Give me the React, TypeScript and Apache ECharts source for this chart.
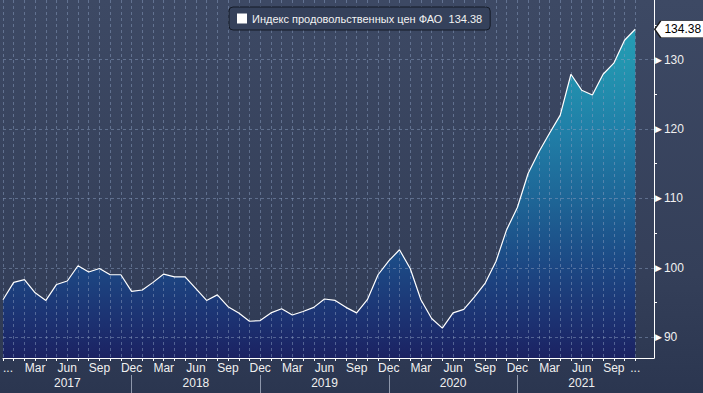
import React, { useEffect, useRef } from 'react';
import * as echarts from 'echarts';

// ---------- DATA ----------
const seriesName = 'Индекс продовольственных цен ФАО';
const lastValueLabel = '134.38';

const months = [
  '2016-12',
  '2017-01', '2017-02', '2017-03', '2017-04', '2017-05', '2017-06',
  '2017-07', '2017-08', '2017-09', '2017-10', '2017-11', '2017-12',
  '2018-01', '2018-02', '2018-03', '2018-04', '2018-05', '2018-06',
  '2018-07', '2018-08', '2018-09', '2018-10', '2018-11', '2018-12',
  '2019-01', '2019-02', '2019-03', '2019-04', '2019-05', '2019-06',
  '2019-07', '2019-08', '2019-09', '2019-10', '2019-11', '2019-12',
  '2020-01', '2020-02', '2020-03', '2020-04', '2020-05', '2020-06',
  '2020-07', '2020-08', '2020-09', '2020-10', '2020-11', '2020-12',
  '2021-01', '2021-02', '2021-03', '2021-04', '2021-05', '2021-06',
  '2021-07', '2021-08', '2021-09', '2021-10', '2021-11',
];

const values = [
  95.4,
  97.9, 98.3, 96.4, 95.3, 97.6, 98.1, 100.3, 99.4, 99.9, 99.0, 99.0, 96.6,
  96.8, 97.9, 99.1, 98.7, 98.7, 97.0, 95.3, 96.1, 94.4, 93.5, 92.3, 92.4,
  93.5, 94.1, 93.2, 93.7, 94.3, 95.5, 95.3, 94.3, 93.5, 95.4, 99.0, 101.0,
  102.6, 99.9, 95.4, 92.7, 91.3, 93.5, 94.0, 95.8, 97.8, 100.9, 105.5, 108.7,
  113.6, 116.7, 119.4, 122.0, 127.9, 125.6, 124.9, 127.9, 129.5, 132.8, 134.38,
];

const monthNames = ['Jan', 'Feb', 'Mar', 'Apr', 'May', 'Jun', 'Jul', 'Aug', 'Sep', 'Oct', 'Nov', 'Dec'];
const years = ['2017', '2018', '2019', '2020', '2021'];
const yTicks = [90, 100, 110, 120, 130];
const yMinorTicks = [95, 105, 115, 125, 135];

const FONT = "'Liberation Sans', Arial, sans-serif";

export default function App() {
  const ref = useRef<HTMLDivElement>(null);

  useEffect(() => {
    if (!ref.current) return;
    const chart = echarts.init(ref.current, null, { renderer: 'svg' });
    const n = months.length;
    const data = values.map((v, i) => [i, v]);
    const monthTickValues = months.map((_, i) => i);
    const monthLabelValues = months.map((_, i) => i).filter((i) => i % 3 === 0 || i === n - 1);
    const monthLabel = (val: number) => {
      const i = Math.round(val);
      if (i === 0 || i === n - 1) return '...';
      const m = parseInt(months[i].slice(5), 10);
      return monthNames[m - 1];
    };
    const yearLabelValues = years.map((y) => months.indexOf(y + '-06'));
    const yearSepValues = years.map((y) => months.indexOf(y + '-12')).filter((i) => i >= 0);

    const xMin = 0;
    const xMax = 60.75;
    const yMin = 87;
    const yMax = 138.6;

    const gridLine = {
      show: true,
      lineStyle: { color: 'rgba(135,155,190,0.5)', type: [3, 3] as any, width: 1 },
    };

    chart.setOption({
      animation: false,
      backgroundColor: 'transparent',
      textStyle: { fontFamily: FONT },
      grid: { left: 0, right: 49, top: 0, bottom: 35, containLabel: false },
      legend: {
        left: 229,
        top: 7,
        padding: [6, 8, 6, 8],
        backgroundColor: '#35415b',
        borderColor: '#151b27',
        borderWidth: 1,
        borderRadius: 4,
        itemWidth: 10,
        itemHeight: 10,
        itemGap: 5,
        selectedMode: false,
        data: [{ name: seriesName, icon: 'rect', itemStyle: { color: '#ffffff' } }],
        formatter: (name: string) => name + '  ' + lastValueLabel,
        textStyle: { color: '#f2f2f2', fontSize: 11, fontFamily: FONT },
      },
      xAxis: [
        {
          type: 'value',
          min: xMin,
          max: xMax,
          position: 'bottom',
          z: 3,
          axisLine: { show: true, onZero: false, lineStyle: { color: '#ffffff', width: 1 } },
          axisTick: { show: true, customValues: monthTickValues, length: 3, lineStyle: { color: '#ffffff' } },
          axisLabel: {
            customValues: monthLabelValues,
            formatter: monthLabel,
            color: '#f0f0f0',
            fontSize: 12,
            fontFamily: FONT,
            margin: 4,
            alignMinLabel: 'left',
          },
          splitLine: gridLine,
        },
        {
          type: 'value',
          min: xMin,
          max: xMax,
          position: 'bottom',
          offset: 17,
          z: 3,
          axisLine: { show: false, onZero: false },
          axisTick: { show: true, customValues: yearSepValues, length: 18, lineStyle: { color: '#8e97ab' } },
          axisLabel: {
            customValues: yearLabelValues,
            formatter: (val: number) => months[Math.round(val)].slice(0, 4),
            color: '#f0f0f0',
            fontSize: 12,
            fontFamily: FONT,
            margin: 2,
          },
          splitLine: { show: false },
        },
      ],
      yAxis: [
        {
          type: 'value',
          position: 'right',
          min: yMin,
          max: yMax,
          z: 3,
          axisLine: { show: true, onZero: false, lineStyle: { color: '#ffffff', width: 1 } },
          axisTick: { show: false, customValues: yTicks },
          axisLabel: {
            customValues: yTicks,
            margin: 1,
            formatter: (v: number) => '{t|▶}{v|' + v + '}',
            rich: {
              t: { fontSize: 9, color: '#ffffff', fontFamily: 'DejaVu Sans', padding: [0, 2, 0, 0] },
              v: { fontSize: 12, color: '#f0f0f0', fontFamily: FONT },
            },
          },
          splitLine: gridLine,
        },
        {
          type: 'value',
          position: 'right',
          min: yMin,
          max: yMax,
          z: 3,
          axisLine: { show: false, onZero: false },
          axisTick: { show: true, customValues: yMinorTicks, length: 3, lineStyle: { color: '#ffffff' } },
          axisLabel: { show: false },
          splitLine: { show: false },
        },
      ],
      series: [
        {
          type: 'line',
          name: seriesName,
          data,
          xAxisIndex: 0,
          yAxisIndex: 0,
          symbol: 'none',
          silent: true,
          z: 2,
          lineStyle: { width: 0 },
          areaStyle: {
            opacity: 1,
            color: {
              type: 'linear',
              x: 0,
              y: 0,
              x2: 0,
              y2: 358,
              global: true,
              colorStops: [
                { offset: 0, color: '#26a2b9' },
                { offset: 0.17, color: '#2396b0' },
                { offset: 0.36, color: '#2080a8' },
                { offset: 0.56, color: '#1e6596' },
                { offset: 0.75, color: '#1c4783' },
                { offset: 0.9, color: '#1c3171' },
                { offset: 1, color: '#1b2262' },
              ],
            },
          },
        },
        {
          type: 'line',
          name: seriesName,
          data,
          xAxisIndex: 0,
          yAxisIndex: 0,
          symbol: 'none',
          silent: true,
          z: 5,
          lineStyle: { color: '#ffffff', width: 1.2 },
          markPoint: {
            silent: true,
            symbol: 'path://M0,8.5 L6,0 L54,0 L54,17 L6,17 Z',
            symbolSize: [54, 17],
            symbolKeepAspect: false,
            symbolOffset: [46.5, 0],
            itemStyle: { color: '#ffffff', borderColor: '#1a1a1a', borderWidth: 1 },
            label: {
              show: true,
              position: 'inside',
              formatter: lastValueLabel,
              color: '#000000',
              fontSize: 12,
              fontFamily: FONT,
              offset: [1, 0],
            },
            data: [{ coord: [n - 1, values[n - 1]] }],
          },
        },
      ],
    });

    return () => {
      chart.dispose();
    };
  }, []);

  return (
    <div
      style={{
        position: 'fixed',
        left: 0,
        top: 0,
        width: 703,
        height: 393,
        background: 'linear-gradient(180deg, #3d4964 0%, #343f59 70%, #2b3650 100%)',
      }}
    >
      <div ref={ref} style={{ width: 703, height: 393 }} />
    </div>
  );
}
